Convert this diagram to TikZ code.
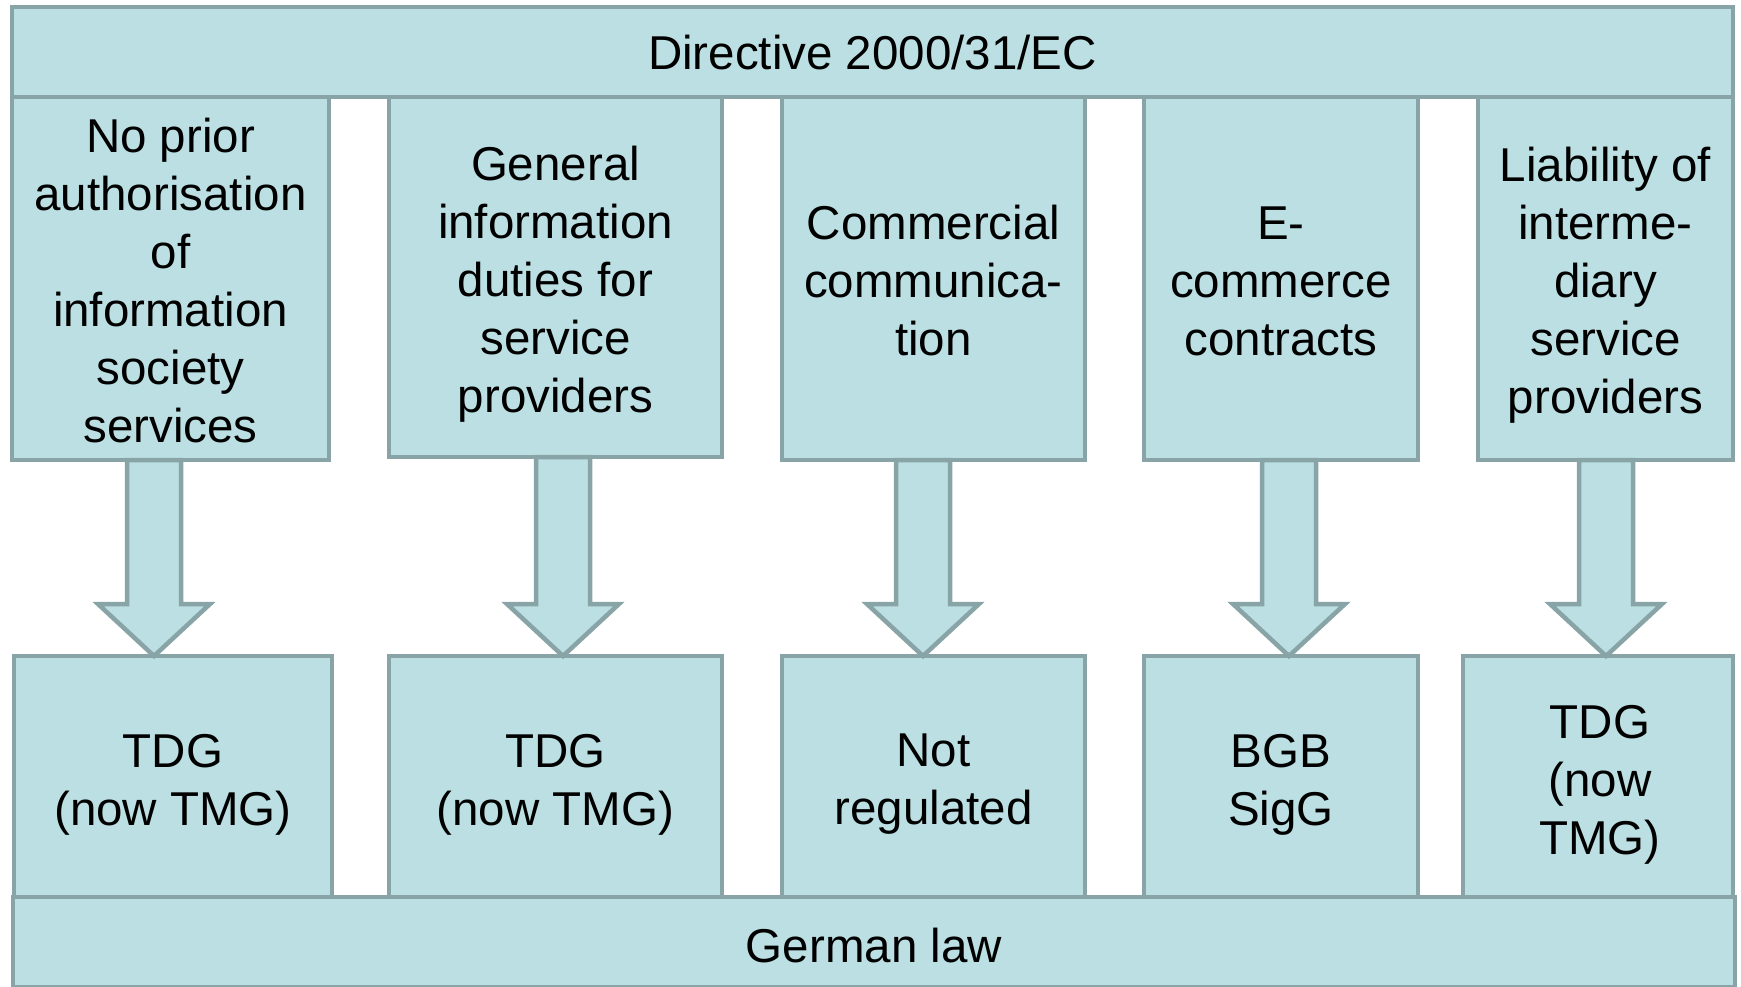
\documentclass[tikz,border=0pt]{standalone}
\usepackage{fontspec}
\setmainfont{Liberation Sans}
\usetikzlibrary{calc}
\definecolor{boxfill}{RGB}{187,223,226}
\definecolor{boxline}{RGB}{136,164,166}
\tikzset{
  box/.style={draw=boxline, fill=boxfill, line width=4.5pt, rectangle, inner sep=0pt, outer sep=0pt},
  txt/.style={inner sep=0pt, align=center, font=\fontsize{47.5}{58}\selectfont},
  arr/.style={draw=boxline, fill=boxfill, line width=4.5pt, line join=miter},
}
\newcommand{\blockarrow}[2]{%
  \draw[arr] ([xshift=-27pt]#1) -- ([xshift=27pt]#1) -- ([xshift=27pt,yshift=52pt]#2)
    -- ([xshift=56pt,yshift=52pt]#2) -- (#2) -- ([xshift=-56pt,yshift=52pt]#2)
    -- ([xshift=-27pt,yshift=52pt]#2) -- cycle;}
\begin{document}
\begin{tikzpicture}[x=1pt,y=-1pt]
\useasboundingbox (0,0) rectangle (1741,987);
% top row
\node[box, minimum width=317, minimum height=363] (t1) at (170.5,278.5) {};
\node[box, minimum width=333, minimum height=360] (t2) at (555.5,277) {};
\node[box, minimum width=303, minimum height=363] (t3) at (933.5,278.5) {};
\node[box, minimum width=274, minimum height=363] (t4) at (1281,278.5) {};
\node[box, minimum width=255, minimum height=363] (t5) at (1605.5,278.5) {};
\node[box, minimum width=1721, minimum height=90] (top) at (872.5,52) {};
\node[txt] (t1t) at ([yshift=-2pt]t1.center) {No prior\\authorisation\\of\\information\\society\\services};
\node[txt] (t2t) at ([yshift=-7pt]t2.center) {General\\information\\duties for\\service\\providers};
\node[txt] (t3t) at ([yshift=-2pt]t3.center) {Commercial\\communica-\\tion};
\node[txt] (t4t) at ([yshift=-3pt]t4.center) {E-\\commerce\\contracts};
\node[txt] (t5t) at ([yshift=-7pt]t5.center) {Liability of\\interme-\\diary\\service\\providers};
\node[txt] (topt) at ([yshift=-1pt]top.center) {Directive 2000/31/EC};
% bottom row
\node[box, minimum width=318, minimum height=241] (b1) at (173,776.5) {};
\node[box, minimum width=333, minimum height=241] (b2) at (555.5,776.5) {};
\node[box, minimum width=303, minimum height=241] (b3) at (933.5,776.5) {};
\node[box, minimum width=274, minimum height=241] (b4) at (1281,776.5) {};
\node[box, minimum width=270, minimum height=241] (b5) at (1598,776.5) {};
\node[box, minimum width=1722, minimum height=90] (gl) at (874,942) {};
\node[txt] (b1t) at ([yshift=-8pt]b1.center) {TDG\\(now TMG)};
\node[txt] (b2t) at ([yshift=-8pt]b2.center) {TDG\\(now TMG)};
\node[txt] (b3t) at ([yshift=-8pt]b3.center) {Not\\regulated};
\node[txt] (b4t) at ([yshift=-8pt]b4.center) {BGB\\SigG};
\node[txt] (b5t) at ([xshift=2pt,yshift=-8pt]b5.center) {TDG\\(now\\TMG)};
\node[txt] (glt) at ([yshift=-4pt]gl.center) {German law};
% arrow anchors
\coordinate (a1s) at (t1.south -| 154,0);
\coordinate (a1e) at (b1.north -| 154,0);
\coordinate (a2s) at (t2.south -| 563,0);
\coordinate (a2e) at (b2.north -| 563,0);
\coordinate (a3s) at (t3.south -| 923,0);
\coordinate (a3e) at (b3.north -| 923,0);
\coordinate (a4s) at (t4.south -| 1289,0);
\coordinate (a4e) at (b4.north -| 1289,0);
\coordinate (a5s) at (t5.south -| 1606,0);
\coordinate (a5e) at (b5.north -| 1606,0);
\blockarrow{a1s}{a1e}
\blockarrow{a2s}{a2e}
\blockarrow{a3s}{a3e}
\blockarrow{a4s}{a4e}
\blockarrow{a5s}{a5e}
\end{tikzpicture}
\end{document}
